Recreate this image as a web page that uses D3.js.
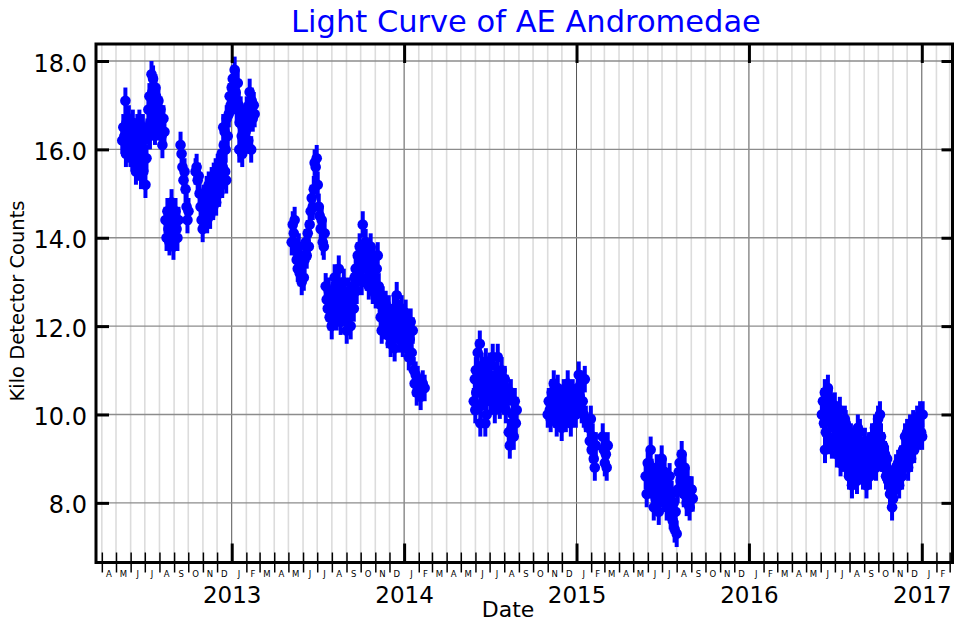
<!DOCTYPE html>
<html>
<head>
<meta charset="utf-8">
<script src="https://cdn.jsdelivr.net/npm/d3@7"></script>
<style>
body { margin: 0; background: #fff; }
text { font-family: "DejaVu Sans", sans-serif; }
</style>
</head>
<body>
<svg id="chart" width="960" height="624"></svg>
<script>
// observations: [decimal year, kilo detector counts]
var season2012 = [[2012.367,16.2],[2012.373,16.5],[2012.379,16.3],[2012.385,17.1],[2012.388,15.9],[2012.391,16.6],[2012.396,16.0],[2012.402,16.4],[2012.405,16.7],[2012.408,16.2],[2012.414,15.9],[2012.420,16.3],[2012.425,15.8],[2012.428,16.6],[2012.431,16.1],[2012.437,16.4],[2012.443,15.7],[2012.446,15.5],[2012.449,16.0],[2012.454,16.5],[2012.457,15.6],[2012.460,15.9],[2012.466,16.6],[2012.472,16.2],[2012.475,15.4],[2012.478,15.6],[2012.483,16.0],[2012.486,16.5],[2012.489,15.5],[2012.495,16.3],[2012.501,15.2],[2012.507,15.8],[2012.512,16.4],[2012.518,16.9],[2012.524,17.2],[2012.527,16.3],[2012.530,16.6],[2012.536,17.7],[2012.541,17.3],[2012.545,17.6],[2012.547,16.8],[2012.553,17.0],[2012.556,16.4],[2012.559,17.4],[2012.562,17.2],[2012.565,16.9],[2012.570,16.5],[2012.576,17.1],[2012.582,16.6],[2012.588,16.9],[2012.594,16.3],[2012.599,16.1],[2012.605,16.7],[2012.611,16.4],
  [2012.617,14.4],[2012.623,14.0],[2012.628,14.6],[2012.634,14.2],[2012.640,13.9],[2012.646,14.5],[2012.652,14.8],[2012.657,14.1],[2012.663,13.8],[2012.669,14.3],[2012.675,14.6],[2012.681,14.2],[2012.686,14.0],[2012.692,14.4],
  [2012.704,16.1],[2012.710,15.9],[2012.715,15.6],[2012.721,15.3],[2012.727,15.5],[2012.733,15.1],[2012.739,14.7],[2012.744,14.4],[2012.750,14.6],
  [2012.791,15.5],[2012.797,15.6],[2012.803,15.3],[2012.809,15.4],[2012.814,15.0],[2012.820,14.7],[2012.826,14.4],[2012.832,14.2],[2012.838,14.9],[2012.843,14.5],
  [2012.849,14.9],[2012.855,15.1],[2012.858,14.4],[2012.861,14.6],[2012.867,15.2],[2012.872,14.8],[2012.875,14.5],[2012.878,15.0],[2012.884,15.3],[2012.890,14.9],[2012.893,14.7],[2012.896,15.4],[2012.901,15.1],[2012.907,15.5],[2012.910,14.8],[2012.913,15.2],[2012.919,15.6],[2012.925,15.3],[2012.927,15.0],[2012.930,15.7],[2012.936,15.5],[2012.942,15.9],[2012.945,15.2],[2012.948,15.6],[2012.951,16.5],[2012.954,16.1],[2012.959,16.4],[2012.962,15.5],[2012.965,16.0],[2012.968,15.3],[2012.971,16.7],[2012.977,16.3],
  [2012.983,16.8],[2012.988,17.2],[2012.994,17.0],[2013.000,17.4],[2013.006,17.6],[2013.012,17.1],[2013.017,17.8],[2013.023,17.3],[2013.029,16.9],[2013.035,17.5],[2013.041,17.0],[2013.044,16.0],[2013.046,16.6],[2013.052,16.9],[2013.058,16.3],[2013.061,15.9],[2013.064,16.5],[2013.070,16.1],[2013.075,16.7],[2013.081,16.4],[2013.087,16.9],[2013.093,16.5],[2013.096,16.2],[2013.099,17.0],[2013.104,17.3],[2013.110,16.8],[2013.113,16.0],[2013.116,17.1],[2013.122,16.7],[2013.128,17.0],[2013.133,16.8]];

var season2013 = [[2013.348,13.9],[2013.354,14.3],[2013.360,14.1],[2013.365,14.4],[2013.371,13.7],[2013.377,13.5],[2013.383,13.3],[2013.389,13.8],[2013.394,13.2],[2013.400,13.6],[2013.406,13.0],[2013.412,13.4],[2013.418,13.1],[2013.423,13.5],[2013.429,13.9],[2013.435,13.6],[2013.441,14.1],[2013.447,13.8],[2013.452,14.3],[2013.458,14.6],[2013.464,14.9],[2013.470,14.7],[2013.476,15.1],[2013.481,15.7],[2013.487,15.6],[2013.493,15.8],[2013.499,15.2],[2013.505,14.7],[2013.510,14.5],[2013.516,14.2],[2013.522,14.4],[2013.528,13.9],[2013.534,13.8],[2013.539,14.1],
  [2013.545,12.9],[2013.551,12.6],[2013.557,12.4],[2013.563,12.8],[2013.568,12.2],[2013.574,12.5],[2013.580,12.0],[2013.586,12.7],[2013.592,12.3],[2013.597,13.1],[2013.603,12.6],[2013.609,12.2],[2013.615,12.9],[2013.621,13.3],[2013.626,12.5],[2013.632,12.1],[2013.638,12.8],[2013.644,12.4],[2013.650,13.0],[2013.655,12.6],[2013.661,12.2],[2013.667,11.9],[2013.673,12.5],[2013.679,12.8],[2013.684,12.3],[2013.690,12.0],[2013.696,12.6],[2013.702,12.9],[2013.708,12.4],[2013.713,13.1],
  [2013.719,13.3],[2013.725,12.8],[2013.731,13.6],[2013.737,13.2],[2013.742,13.8],[2013.748,13.4],[2013.754,13.0],[2013.760,14.3],[2013.766,13.7],[2013.771,13.5],[2013.777,13.9],[2013.783,13.1],[2013.789,13.6],[2013.795,12.9],[2013.800,13.4],[2013.806,13.8],[2013.812,13.2],[2013.818,12.8],[2013.824,13.5],[2013.829,13.1],[2013.835,12.7],[2013.841,13.3],[2013.847,13.6],[2013.853,12.9],[2013.858,12.5],
  [2013.864,12.2],[2013.870,11.9],[2013.876,12.6],[2013.882,12.3],[2013.887,12.0],[2013.893,12.5],[2013.899,12.2],[2013.905,11.8],[2013.911,12.4],[2013.916,12.0],[2013.922,11.6],[2013.928,12.2],[2013.934,11.8],[2013.940,12.4],[2013.945,11.5],[2013.951,12.1],[2013.957,12.7],[2013.963,11.9],[2013.969,12.3],[2013.974,11.7],[2013.980,12.0],[2013.986,12.4],[2013.992,11.6],[2013.998,12.1],[2014.003,11.8],[2014.009,12.3],[2014.015,11.5],[2014.021,12.0],[2014.027,11.3],[2014.032,11.7],[2014.038,12.1],[2014.044,11.4],[2014.050,11.9],
  [2014.056,11.0],[2014.061,10.7],[2014.067,10.9],[2014.073,10.5],[2014.079,10.8],[2014.085,10.6],[2014.096,10.4],[2014.108,10.7],[2014.119,10.6]];

var season2014 = [[2014.404,10.3],[2014.410,10.8],[2014.413,10.1],[2014.416,11.0],[2014.419,10.5],[2014.421,10.5],[2014.427,11.4],[2014.433,10.7],[2014.439,11.6],[2014.442,9.8],[2014.445,10.2],[2014.450,11.1],[2014.456,10.6],[2014.462,10.9],[2014.468,10.4],[2014.471,9.8],[2014.474,11.2],[2014.479,10.0],[2014.485,10.8],[2014.491,10.5],[2014.497,11.1],[2014.503,10.3],[2014.508,10.7],[2014.514,11.3],[2014.520,10.6],[2014.526,10.1],[2014.532,10.9],[2014.537,10.4],[2014.543,11.3],[2014.549,10.8],[2014.555,10.2],[2014.561,10.6],[2014.566,11.0],[2014.572,10.5],[2014.578,10.3],[2014.584,10.8],[2014.590,10.1],[2014.595,10.6],[2014.601,10.4],[2014.607,9.6],[2014.613,9.3],[2014.619,10.5],[2014.624,9.7],[2014.630,10.0],[2014.636,9.5],[2014.642,10.3],[2014.648,9.8],[2014.653,10.1]];

var season2015a = [[2014.833,10.0],[2014.839,10.3],[2014.845,10.1],[2014.850,9.9],[2014.856,10.5],[2014.862,10.2],[2014.868,10.7],[2014.874,10.0],[2014.879,10.4],[2014.885,9.8],[2014.891,10.6],[2014.897,10.2],[2014.903,10.0],[2014.909,10.3],[2014.914,9.7],[2014.920,10.1],[2014.926,10.5],[2014.932,10.3],[2014.938,9.9],[2014.943,10.2],[2014.949,10.7],[2014.955,10.0],[2014.961,10.4],[2014.967,9.8],[2014.972,10.2],[2014.978,10.5],[2014.984,10.1],[2014.990,10.3],[2014.996,10.0],[2015.001,10.2],[2015.007,10.6],[2015.013,10.9],[2015.019,10.4],[2015.025,10.7],[2015.030,10.1],[2015.036,10.3],[2015.042,10.0],[2015.048,10.8],[2015.054,9.9],
  [2015.071,9.7],[2015.077,9.4],[2015.083,9.9],[2015.088,9.2],[2015.094,9.5],[2015.100,9.0],[2015.106,8.8],[2015.112,9.3],[2015.152,9.5],[2015.158,9.2],[2015.164,8.9],[2015.170,9.1],[2015.175,8.8],[2015.181,9.3]];

var season2015b = [[2015.401,8.6],[2015.407,8.2],[2015.413,8.9],[2015.419,8.9],[2015.424,8.4],[2015.430,9.2],[2015.436,8.7],[2015.442,8.3],[2015.448,7.9],[2015.453,8.5],[2015.459,8.1],[2015.465,8.8],[2015.471,8.4],[2015.477,7.8],[2015.482,8.6],[2015.488,8.2],[2015.494,9.0],[2015.500,8.5],[2015.506,8.1],[2015.511,8.7],[2015.517,8.3],[2015.523,7.9],[2015.529,8.4],[2015.535,8.0],[2015.540,8.6],[2015.546,7.7],[2015.552,8.2],[2015.558,7.6],[2015.564,8.0],[2015.569,7.4],[2015.575,7.8],[2015.581,7.3],[2015.587,8.3],[2015.593,8.7],[2015.598,8.9],[2015.604,8.5],[2015.610,9.1],[2015.616,8.6],[2015.622,8.2],[2015.627,8.8],[2015.633,8.4],[2015.639,8.0],[2015.645,8.5],[2015.651,8.2],[2015.656,7.9],[2015.662,8.3],[2015.668,8.3],[2015.674,8.1]];

var season2016 = [[2016.422,10.0],[2016.428,10.3],[2016.434,9.8],[2016.439,10.5],[2016.440,9.2],[2016.445,9.6],[2016.451,10.1],[2016.457,10.6],[2016.460,10.4],[2016.463,9.4],[2016.468,9.9],[2016.474,10.3],[2016.480,9.3],[2016.486,10.0],[2016.492,9.7],[2016.497,10.2],[2016.500,10.0],[2016.503,9.5],[2016.509,9.1],[2016.515,9.8],[2016.521,9.4],[2016.526,10.1],[2016.530,8.9],[2016.532,9.2],[2016.538,9.7],[2016.544,9.0],[2016.550,9.5],[2016.555,9.9],[2016.560,9.8],[2016.561,8.9],[2016.567,9.3],[2016.573,9.6],[2016.579,8.6],[2016.584,9.2],[2016.590,9.5],[2016.596,8.4],[2016.600,8.7],[2016.602,9.0],[2016.608,9.4],[2016.613,8.7],[2016.619,9.1],[2016.625,8.5],[2016.630,9.7],[2016.631,9.3],[2016.637,8.8],[2016.642,9.6],[2016.648,8.9],[2016.654,9.2],[2016.660,8.6],[2016.666,9.0],[2016.671,9.4],[2016.677,8.7],[2016.680,8.4],[2016.683,9.1],[2016.689,8.8],[2016.695,9.3],[2016.700,8.6],[2016.706,9.0],[2016.712,9.5],[2016.718,8.9],[2016.724,9.2],[2016.729,9.7],[2016.735,8.8],[2016.741,9.4],[2016.747,9.9],[2016.753,9.1],[2016.758,10.0],[2016.764,9.5],[2016.770,9.0],[2016.776,9.3],[2016.782,8.8],[2016.787,9.1],[2016.793,8.6],[2016.799,9.0],[2016.805,8.5],[2016.811,8.7],[2016.816,8.2],[2016.822,8.4],[2016.828,7.9],[2016.834,8.1],[2016.840,8.6],[2016.845,8.3],[2016.851,8.8],[2016.857,8.5],[2016.863,8.9],[2016.869,8.4],[2016.874,8.7],[2016.880,9.0],[2016.886,8.6],[2016.892,9.2],[2016.898,8.9],[2016.903,9.5],[2016.909,9.1],[2016.915,9.6],[2016.921,8.8],[2016.927,9.3],[2016.932,9.7],[2016.938,9.0],[2016.944,9.4],[2016.950,9.8],[2016.956,9.2],[2016.961,9.6],[2016.967,9.4],[2016.973,9.9],[2016.979,9.7],[2016.985,9.5],[2016.990,10.0],[2016.996,9.6],[2017.002,9.5],[2017.005,10.0]];

var seasons = [season2012, season2013, season2014, season2015a, season2015b, season2016];
var countError = 0.3;
var yTicks = [8, 10, 12, 14, 16, 18];
var monthLetters = ['J','F','M','A','M','J','J','A','S','O','N','D'];
var startDate = new Date(Date.UTC(2012, 2, 19, 16));
var endDate = new Date(Date.UTC(2017, 2, 7));

function toDate(t) {
	var yr = Math.floor(t);
	var a = Date.UTC(yr, 0, 1), b = Date.UTC(yr + 1, 0, 1);
	return new Date(a + (t - yr) * (b - a));
}

var plotLeft = 96, plotRight = 952.5, plotTop = 44, plotBottom = 562.5;

var svg = d3.select('#chart');

var x = d3.scaleUtc().domain([startDate, endDate]).range([plotLeft, plotRight]);
var y = d3.scaleLinear().domain([6.65, 18.385]).range([plotBottom, plotTop]);

var months = d3.utcMonth.range(startDate, endDate);
var years = d3.utcYear.range(startDate, endDate);
var minorMonths = months.filter(function(m) { return m.getUTCMonth() !== 0; });

// grid
svg.append('g').selectAll('line').data(minorMonths).enter().append('line')
	.attr('x1', function(d) { return x(d); }).attr('x2', function(d) { return x(d); })
	.attr('y1', plotTop).attr('y2', plotBottom)
	.attr('stroke', '#dcdcdc').attr('stroke-width', 1.6);

svg.append('g').selectAll('line').data(years).enter().append('line')
	.attr('x1', function(d) { return x(d); }).attr('x2', function(d) { return x(d); })
	.attr('y1', plotTop).attr('y2', plotBottom)
	.attr('stroke', '#555').attr('stroke-width', 1);

svg.append('g').selectAll('line').data(yTicks).enter().append('line')
	.attr('x1', plotLeft).attr('x2', plotRight)
	.attr('y1', function(d) { return y(d); }).attr('y2', function(d) { return y(d); })
	.attr('stroke', '#8c8c8c').attr('stroke-width', 1.3);

// error bars and points
var points = [];
seasons.forEach(function(s) {
	s.forEach(function(p) { points.push({ date: toDate(p[0]), value: p[1] }); });
});

svg.append('g').selectAll('line').data(points).enter().append('line')
	.attr('x1', function(d) { return x(d.date); }).attr('x2', function(d) { return x(d.date); })
	.attr('y1', function(d) { return y(d.value - countError); })
	.attr('y2', function(d) { return y(d.value + countError); })
	.attr('stroke', '#0000ff').attr('stroke-width', 4);

svg.append('g').selectAll('circle').data(points).enter().append('circle')
	.attr('cx', function(d) { return x(d.date); })
	.attr('cy', function(d) { return y(d.value); })
	.attr('r', 5.3)
	.attr('fill', '#0000ff');

// axes
var yLeft = svg.append('g').attr('transform', 'translate(' + plotLeft + ',0)')
	.call(d3.axisLeft(y).tickValues(yTicks).tickFormat(d3.format('.1f')).tickSize(-13).tickPadding(9));
yLeft.select('.domain').remove();
yLeft.selectAll('.tick line').attr('stroke', '#000').attr('stroke-width', 3);
yLeft.selectAll('.tick text').attr('font-size', 24).attr('dy', '0.42em')
	.style('font-family', '"DejaVu Sans", sans-serif');

var yRight = svg.append('g').attr('transform', 'translate(' + plotRight + ',0)')
	.call(d3.axisRight(y).tickValues(yTicks).tickFormat('').tickSize(-11));
yRight.select('.domain').remove();
yRight.selectAll('.tick line').attr('stroke', '#000').attr('stroke-width', 3);

var xMinor = svg.append('g').attr('transform', 'translate(0,' + plotBottom + ')')
	.call(d3.axisBottom(x).tickValues(minorMonths).tickFormat('').tickSize(10));
xMinor.select('.domain').remove();
xMinor.selectAll('.tick line').attr('y1', -10).attr('y2', 10).attr('stroke', '#000').attr('stroke-width', 1.5);

var xMajor = svg.append('g').attr('transform', 'translate(0,' + plotBottom + ')')
	.call(d3.axisBottom(x).tickValues(years).tickFormat(d3.utcFormat('%Y')).tickSize(-19).tickPadding(24));
xMajor.select('.domain').remove();
xMajor.selectAll('.tick line').attr('stroke', '#000').attr('stroke-width', 3);
xMajor.selectAll('.tick text').attr('font-size', 23).attr('dy', '0.71em')
	.style('font-family', '"DejaVu Sans", sans-serif');

var xTop = svg.append('g').attr('transform', 'translate(0,' + plotTop + ')')
	.call(d3.axisTop(x).tickValues(years).tickFormat('').tickSize(-19));
xTop.select('.domain').remove();
xTop.selectAll('.tick line').attr('stroke', '#000').attr('stroke-width', 3);

// month letters between ticks
var fullMonths = months.filter(function(m) { return d3.utcMonth.offset(m, 1) <= endDate; });
svg.append('g').selectAll('text').data(fullMonths).enter().append('text')
	.attr('x', function(d) { return (x(d) + x(d3.utcMonth.offset(d, 1))) / 2; })
	.attr('y', 576.5)
	.attr('text-anchor', 'middle')
	.attr('font-size', 8.5)
	.text(function(d) { return monthLetters[d.getUTCMonth()]; });

// frame
svg.append('rect')
	.attr('x', plotLeft).attr('y', plotTop)
	.attr('width', plotRight - plotLeft).attr('height', plotBottom - plotTop)
	.attr('fill', 'none').attr('stroke', '#000').attr('stroke-width', 3);

// titles
svg.append('text')
	.attr('x', 526).attr('y', 32)
	.attr('text-anchor', 'middle')
	.attr('font-size', 30.5)
	.attr('fill', '#0000ff')
	.text('Light Curve of AE Andromedae');

svg.append('text')
	.attr('x', 508).attr('y', 617)
	.attr('text-anchor', 'middle')
	.attr('font-size', 22)
	.text('Date');

svg.append('text')
	.attr('transform', 'translate(24,301) rotate(-90)')
	.attr('text-anchor', 'middle')
	.attr('font-size', 19.5)
	.text('Kilo Detector Counts');
</script>
</body>
</html>
